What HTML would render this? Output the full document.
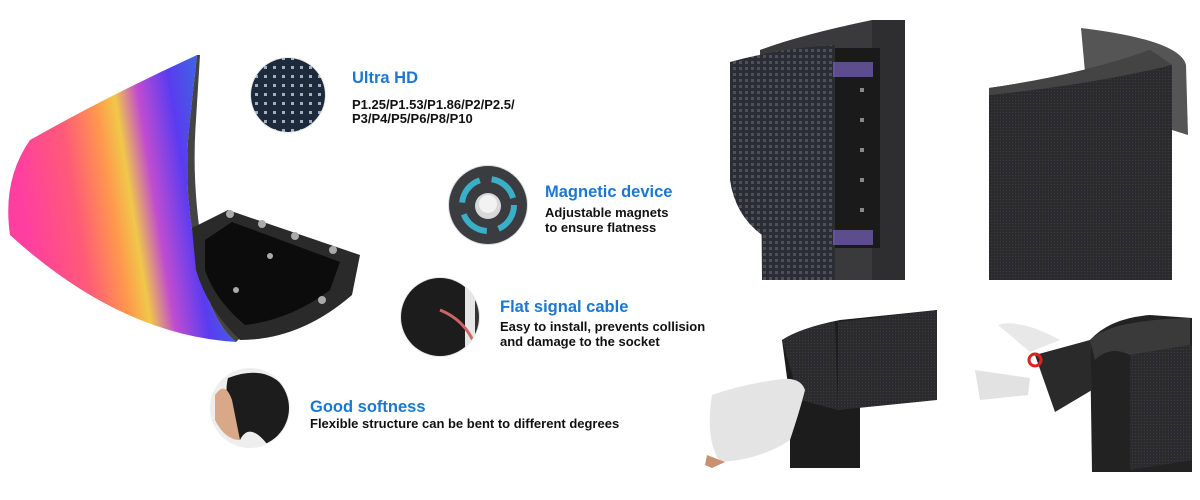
<!DOCTYPE html>
<html><head><meta charset="utf-8"><style>
html,body{margin:0;padding:0;background:#fff;width:1200px;height:500px;overflow:hidden}
svg{display:block}
.h{font-family:"Liberation Sans",sans-serif;font-weight:bold;fill:#1a78d2;font-size:16.5px}
.t{font-family:"Liberation Sans",sans-serif;font-weight:bold;fill:#111;font-size:13px}
</style></head><body>
<svg width="1200" height="500" viewBox="0 0 1200 500" xmlns="http://www.w3.org/2000/svg">
<defs>
<linearGradient id="rb" x1="0" y1="0.2" x2="1" y2="0">
<stop offset="0" stop-color="#ff3fa0"/><stop offset="0.22" stop-color="#ff5a78"/><stop offset="0.38" stop-color="#ff9a4c"/><stop offset="0.46" stop-color="#f0c84a"/><stop offset="0.56" stop-color="#c04cd0"/><stop offset="0.7" stop-color="#5a3cf0"/><stop offset="0.85" stop-color="#3a6ae0"/><stop offset="1" stop-color="#7a3ad0"/>
</linearGradient>
<pattern id="dots" width="6" height="6" patternUnits="userSpaceOnUse"><rect width="6" height="6" fill="#2a2d33"/><rect x="1" y="1" width="3" height="3" fill="#4c5058"/></pattern>
<pattern id="fine" width="3" height="3" patternUnits="userSpaceOnUse"><rect width="3" height="3" fill="#2b2b2d"/><rect x="1" y="1" width="1" height="1" fill="#3c3c40"/></pattern>
<pattern id="uhd" width="9" height="9" patternUnits="userSpaceOnUse"><rect width="9" height="9" fill="#1d2a3a"/><rect x="3" y="3" width="3" height="3" fill="#9fb0c4"/></pattern>
<clipPath id="c1"><circle cx="288" cy="95" r="37"/></clipPath>
<clipPath id="c2"><circle cx="488" cy="205" r="39"/></clipPath>
<clipPath id="c3"><circle cx="440" cy="317" r="39"/></clipPath>
<clipPath id="c4"><circle cx="250" cy="408" r="39"/></clipPath>
</defs>

<path d="M30,140 Q110,95 197,55 L190,120 Q180,200 205,290 Q218,328 236,342 Q120,335 10,235 Q2,180 30,140 Z" fill="url(#rb)"/>
<path d="M197,55 L190,120 Q180,200 205,290 Q218,328 236,342 L240,338 Q222,320 210,288 Q190,200 196,120 L200,55 Z" fill="#444"/>
<path d="M192,228 L228,210 L360,255 L352,295 Q300,340 240,340 Q208,310 196,270 Z" fill="#2a2a2a"/>
<path d="M205,240 L232,222 L340,262 L330,290 Q290,320 245,325 Q215,300 205,270 Z" fill="#0c0c0c"/>
<g fill="#aaa"><circle cx="230" cy="214" r="4"/><circle cx="262" cy="224" r="4"/><circle cx="295" cy="236" r="4"/><circle cx="333" cy="250" r="4"/><circle cx="322" cy="300" r="4"/><circle cx="236" cy="290" r="3"/><circle cx="270" cy="256" r="3"/></g>

<circle cx="288" cy="95" r="38" fill="#e8e8e8"/>
<rect x="248" y="55" width="80" height="80" fill="url(#uhd)" clip-path="url(#c1)"/>
<circle cx="488" cy="205" r="40" fill="#ddd"/>
<g clip-path="url(#c2)"><rect x="445" y="160" width="90" height="90" fill="#3a3c40"/><circle cx="488" cy="205" r="26" fill="none" stroke="#3ab0c8" stroke-width="6" stroke-dasharray="30 12"/><circle cx="488" cy="206" r="13" fill="#d8d8d8"/><circle cx="488" cy="204" r="9" fill="#f2f2f2"/></g>
<circle cx="440" cy="317" r="40" fill="#e6e6e6"/>
<g clip-path="url(#c3)"><rect x="400" y="278" width="65" height="80" fill="#1c1c1c"/><rect x="475" y="278" width="10" height="80" fill="#333"/><path d="M440,310 Q465,320 475,345" stroke="#c66" stroke-width="3" fill="none"/></g>
<circle cx="250" cy="408" r="40" fill="#eee"/>
<g clip-path="url(#c4)"><path d="M228,378 Q270,362 290,395 Q292,430 270,448 Q250,420 240,440 Q222,400 228,378Z" fill="#1c1c1c"/><path d="M215,395 Q225,380 232,400 L240,440 Q225,440 215,420Z" fill="#d9a888"/></g>

<text class="h" x="352" y="83">Ultra HD</text>
<text class="t" x="352" y="109">P1.25/P1.53/P1.86/P2/P2.5/</text>
<text class="t" x="352" y="123">P3/P4/P5/P6/P8/P10</text>
<text class="h" x="545" y="197">Magnetic device</text>
<text class="t" x="545" y="217">Adjustable magnets</text>
<text class="t" x="545" y="232">to ensure flatness</text>
<text class="h" x="500" y="312">Flat signal cable</text>
<text class="t" x="500" y="331">Easy to install, prevents collision</text>
<text class="t" x="500" y="346">and damage to the socket</text>
<text class="h" x="310" y="412">Good softness</text>
<text class="t" x="310" y="428">Flexible structure can be bent to different degrees</text>

<path d="M760,50 Q800,35 872,20 L905,20 L905,280 L762,280 Z" fill="#3a3a3c"/>
<rect x="872" y="20" width="33" height="260" fill="#2e2e30"/>
<rect x="835" y="48" width="45" height="200" fill="#1a1a1a"/>
<path d="M730,62 Q780,48 835,45 L835,280 L762,280 L762,235 Q735,215 730,180 Z" fill="url(#dots)"/>
<rect x="833" y="62" width="40" height="15" fill="#8a70d8" opacity="0.6"/>
<rect x="833" y="230" width="40" height="15" fill="#8a70d8" opacity="0.6"/>
<g fill="#888"><rect x="860" y="88" width="4" height="4"/><rect x="860" y="118" width="4" height="4"/><rect x="860" y="148" width="4" height="4"/><rect x="860" y="178" width="4" height="4"/><rect x="860" y="208" width="4" height="4"/></g>

<path d="M1081,28 Q1180,40 1186,65 L1188,135 L1172,130 L1172,95 Q1100,70 1085,72 Z" fill="#555"/>
<path d="M989,88 Q1080,75 1150,50 L1172,65 L1172,280 L989,280 Z" fill="url(#fine)"/>
<path d="M989,88 Q1080,75 1150,50 L1172,65 Q1090,85 989,95 Z" fill="#444"/>

<path d="M782,340 Q800,328 840,320 L937,310 L937,400 L860,400 L860,468 L790,468 L790,400 Z" fill="#1c1c1c"/>
<path d="M838,322 L937,310 L937,400 L838,410 Z" fill="url(#fine)"/>
<path d="M782,340 Q810,325 835,322 L838,410 L800,400 Z" fill="url(#fine)"/>
<path d="M712,395 Q740,385 775,380 Q800,375 805,390 Q800,410 790,440 Q760,460 720,462 Q705,440 712,395Z" fill="#e4e4e4"/>
<path d="M707,455 L725,462 L712,468 L705,465Z" fill="#c89070"/>

<path d="M1090,340 Q1110,318 1150,315 L1192,318 L1192,472 L1092,472 Z" fill="#222"/>
<path d="M1130,355 L1192,345 L1192,460 L1130,470 Z" fill="url(#fine)"/>
<path d="M1090,340 Q1110,320 1190,318 L1190,345 L1130,355 Q1110,345 1095,360 Z" fill="#3a3a3a"/>
<path d="M1035,355 L1090,340 L1092,390 L1055,412 Z" fill="#2a2a2a"/>
<path d="M998,325 Q1020,318 1060,340 L1030,352 Z" fill="#e8e8e8"/>
<path d="M975,370 L1030,378 L1028,395 L980,400 Z" fill="#e2e2e2"/>
<circle cx="1035" cy="360" r="6" fill="none" stroke="#d22" stroke-width="3"/>
</svg>
</body></html>
